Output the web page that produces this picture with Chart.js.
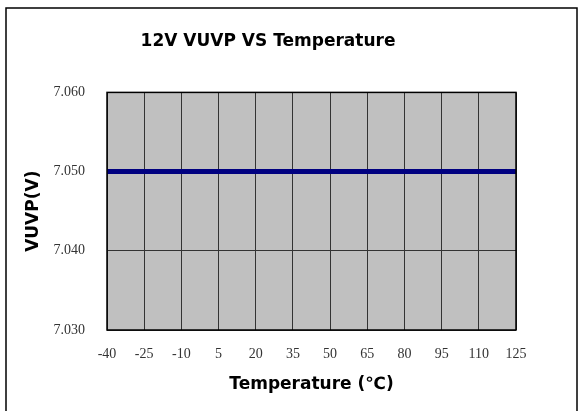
<!DOCTYPE html>
<html>
<head>
<meta charset="utf-8">
<script src="https://cdn.jsdelivr.net/npm/chart.js@4.4.1/dist/chart.umd.min.js"></script>
<style>
	html, body { margin: 0; padding: 0; background: #fff; }
	#wrap { width: 580px; height: 411px; }
</style>
</head>
<body>
<div id="wrap"><canvas id="chart_vuvp" width="580" height="411"></canvas></div>
<script>
// values
var temps = [-40, -25, -10, 5, 20, 35, 50, 65, 80, 95, 110, 125];
var vuvp = [7.050, 7.050, 7.050, 7.050, 7.050, 7.050, 7.050, 7.050, 7.050, 7.050, 7.050, 7.050];
var yTicks = [7.030, 7.040, 7.050, 7.060];

var points = [];
for (var t = 0; t < temps.length; t++) {
	points[points.length] = { x: temps[t], y: vuvp[t] };
}

// grey plot background + outer frame
var frame = {
	id: 'frame',
	beforeDraw: function(chart) {
		var ctx = chart.ctx, a = chart.chartArea;
		ctx.save();
		ctx.fillStyle = '#ffffff';
		ctx.fillRect(0, 0, chart.width, chart.height);
		ctx.fillStyle = '#c0c0c0';
		ctx.fillRect(a.left, a.top, a.right - a.left, a.bottom - a.top);
		ctx.strokeStyle = '#000';
		ctx.lineWidth = 1.5;
		ctx.strokeRect(6, 8, 571, 420);
		ctx.restore();
	},
	afterDatasetsDraw: function(chart) {
		var ctx = chart.ctx, a = chart.chartArea;
		ctx.save();
		ctx.strokeStyle = '#000';
		ctx.lineWidth = 1.5;
		ctx.strokeRect(a.left, a.top, a.right - a.left, a.bottom - a.top);
		ctx.restore();
	}
};

new Chart(document.getElementById('chart_vuvp'), {
	type: 'line',
	data: {
		datasets: [{
			data: points,
			borderColor: '#000080',
			borderWidth: 5,
			pointRadius: 0,
			tension: 0
		}]
	},
	plugins: [frame],
	options: {
		responsive: false,
		animation: false,
		layout: { padding: { left: 20, right: 64, top: 8, bottom: 16 } },
		plugins: {
			legend: { display: false },
			tooltip: { enabled: false },
			title: {
				display: true,
				text: '12V VUVP VS Temperature',
				color: '#000',
				font: { family: 'DejaVu Sans', size: 17, weight: 'bold' },
				padding: { top: 23, bottom: 41 }
			}
		},
		scales: {
			x: {
				type: 'linear',
				min: -40,
				max: 125,
				afterBuildTicks: function(scale) {
					scale.ticks = temps.map(function(v) { return { value: v }; });
				},
				afterFit: function(scale) { scale.height = 65; },
				grid: { color: '#333', lineWidth: 1, drawTicks: false },
				border: { display: false },
				ticks: {
					color: '#333',
					padding: 16,
					maxRotation: 0,
					autoSkip: false,
					font: { family: 'Liberation Serif', size: 14 }
				},
				title: {
					display: true,
					text: 'Temperature (\u2103)',
					color: '#000',
					font: { family: 'DejaVu Sans', size: 17, weight: 'bold' },
					padding: { top: 12, bottom: 0 }
				}
			},
			y: {
				min: 7.030,
				max: 7.060,
				afterBuildTicks: function(scale) {
					scale.ticks = yTicks.map(function(v) { return { value: v }; });
				},
				afterFit: function(scale) { scale.width = 87; },
				grid: { color: '#333', lineWidth: 1, drawTicks: false },
				border: { display: false },
				ticks: {
					color: '#333',
					padding: 22,
					font: { family: 'Liberation Serif', size: 14 },
					callback: function(v) { return v.toFixed(3); }
				},
				title: {
					display: true,
					text: 'VUVP(V)',
					color: '#000',
					font: { family: 'DejaVu Sans', size: 17, weight: 'bold' },
					padding: { top: 3, bottom: 0 }
				}
			}
		}
	}
});
</script>
</body>
</html>
